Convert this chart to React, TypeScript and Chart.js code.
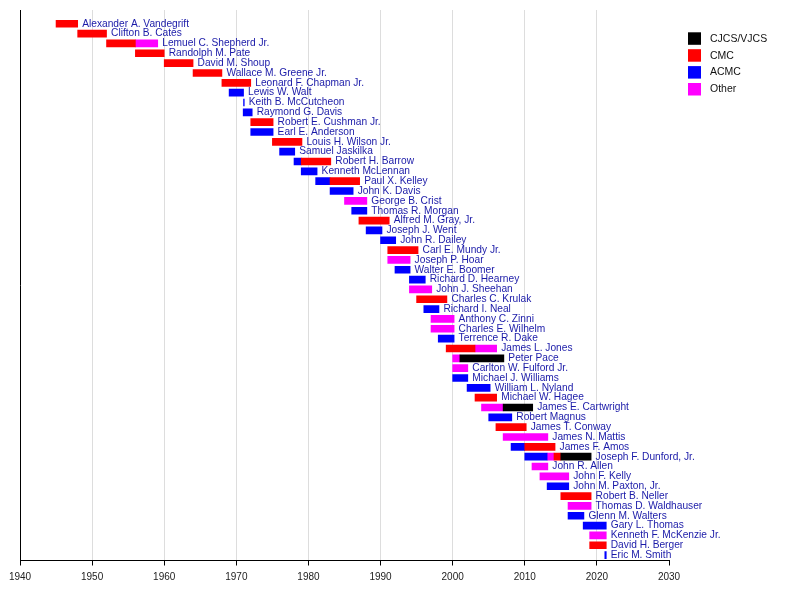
import { Chart, registerables } from "chart.js"
import type { Plugin } from "chart.js"
import { FC, useEffect, useRef } from "react"

Chart.register(...registerables)

type Span = [number, number] | null

// one row per general, top to bottom
const names: string[] = [
    "Alexander A. Vandegrift", "Clifton B. Cates", "Lemuel C. Shepherd Jr.", "Randolph M. Pate",
    "David M. Shoup", "Wallace M. Greene Jr.", "Leonard F. Chapman Jr.", "Lewis W. Walt",
    "Keith B. McCutcheon", "Raymond G. Davis", "Robert E. Cushman Jr.", "Earl E. Anderson",
    "Louis H. Wilson Jr.", "Samuel Jaskilka", "Robert H. Barrow", "Kenneth McLennan",
    "Paul X. Kelley", "John K. Davis", "George B. Crist", "Thomas R. Morgan",
    "Alfred M. Gray, Jr.", "Joseph J. Went", "John R. Dailey", "Carl E. Mundy Jr.",
    "Joseph P. Hoar", "Walter E. Boomer", "Richard D. Hearney", "John J. Sheehan",
    "Charles C. Krulak", "Richard I. Neal", "Anthony C. Zinni", "Charles E. Wilhelm",
    "Terrence R. Dake", "James L. Jones", "Peter Pace", "Carlton W. Fulford Jr.",
    "Michael J. Williams", "William L. Nyland", "Michael W. Hagee", "James E. Cartwright",
    "Robert Magnus", "James T. Conway", "James N. Mattis", "James F. Amos",
    "Joseph F. Dunford, Jr.", "John R. Allen", "John F. Kelly", "John M. Paxton, Jr.",
    "Robert B. Neller", "Thomas D. Waldhauser", "Glenn M. Walters", "Gary L. Thomas",
    "Kenneth F. McKenzie Jr.", "David H. Berger", "Eric M. Smith"
]

const n = null
const cjcsVjcs: Span[] = [
    n, n, n, n, n, n, n, n, n, n, n, n, n, n, n, n, n, n, n, n,
    n, n, n, n, n, n, n, n, n, n, n, n, n, n, [2001, 2007.1], n,
    n, n, n, [2007, 2011.1], n, n, n, n, [2015, 2019.2], n, n, n,
    n, n, n, n, n, n, n
]
const cmc: Span[] = [
    [1945, 1948], [1948, 1952], [1952, 1956], [1956, 1960], [1960, 1964], [1964, 1968], [1968, 1972], n,
    n, n, [1972, 1975.1], n, [1975, 1979.1], n, [1979, 1983.1], n,
    [1983, 1987.1], n, n, n, [1987, 1991.2], n, n, [1991, 1995.2],
    n, n, n, n, [1995, 1999.2], n, n, n,
    n, [1999.1, 2003.1], n, n, n, n, [2003.1, 2006.1], n,
    n, [2006, 2010.2], n, [2010, 2014.2], [2014.05, 2015], n, n, n,
    [2015, 2019.2], n, n, n, n, [2019, 2021.3], n
]
const acmc: Span[] = [
    n, n, n, n, n, n, n, [1969, 1971],
    [1971, 1971.1], [1970.95, 1972.2], n, [1972, 1975.1], n, [1976, 1978.1], [1978, 1979], [1979, 1981.2],
    [1981, 1983], [1983, 1986.2], n, [1986, 1988.1], n, [1988, 1990.2], [1990, 1992.1], n,
    n, [1992, 1994.1], [1994, 1996.2], n, n, [1996, 1998.1], n, n,
    [1998, 2000.2], n, n, n, [2000, 2002.1], [2002, 2005.2], n, n,
    [2005, 2008.2], n, n, [2008.1, 2010], [2010, 2013.1], n, n, [2013.1, 2016.1],
    n, n, [2016, 2018.2], [2018.1, 2021.3], n, n, [2021.1, 2021.3]
]
const other: Span[] = [
    n, n, [1956, 1959.1], n, n, n, n, n,
    n, n, n, n, n, n, n, n,
    n, n, [1985, 1988.1], n, n, n, n, n,
    [1991, 1994.1], n, n, [1994, 1997.1], n, n, [1997, 2000.2], [1997, 2000.2],
    n, [2003.1, 2006.1], [2000, 2001], [2000, 2002.1], n, n, n, [2004, 2007],
    n, n, [2007, 2013.2], n, [2013.1, 2014.05], [2011, 2013.2], [2012.1, 2016.1], n,
    n, [2016, 2019.2], n, n, [2019, 2021.3], n, n
]

const roles = ["CJCS/VJCS", "CMC", "ACMC", "Other"]
const roleColors = ["#000000", "#ff0000", "#0000ff", "#ff00ff"]
const roleSpans = [cjcsVjcs, cmc, acmc, other]

const toPoints = (spans: Span[]) =>
    spans.flatMap((s, i) => (s ? [{ x: s, y: i }] : []))

// name right of the last segment of each row
const nameLabels: Plugin<"bar"> = {
    id: "nameLabels",
    afterDatasetsDraw(chart) {
        const { ctx, scales } = chart
        ctx.save()
        ctx.font = "10.2px 'Liberation Sans', Arial, sans-serif"
        ctx.fillStyle = "#1a1aa8"
        ctx.textBaseline = "middle"
        ctx.textAlign = "left"
        names.forEach((name, i) => {
            const ends = roleSpans.map(r => r[i]).filter(Boolean).map(s => (s as number[])[1])
            if (!ends.length) return
            const x = scales.x.getPixelForValue(Math.max(...ends)) + 4.5
            const y = scales.y.getPixelForValue(i)
            ctx.fillText(name, x, y)
        })
        ctx.restore()
    }
}

const boxLegend: Plugin<"bar"> = {
    id: "boxLegend",
    afterDraw(chart) {
        const { ctx } = chart
        ctx.save()
        ctx.font = "10.5px 'Liberation Sans', Arial, sans-serif"
        ctx.textBaseline = "middle"
        chart.data.datasets.forEach((ds, i) => {
            const top = 32.3 + i * 16.9
            ctx.fillStyle = ds.backgroundColor as string
            ctx.fillRect(688, top, 13, 12.5)
            ctx.fillStyle = "#111111"
            ctx.fillText(ds.label as string, 710, top + 6.5)
        })
        ctx.restore()
    }
}

const TimelineChart: FC = () => {
    const canvasRef = useRef<HTMLCanvasElement>(null)

    useEffect(() => {
        if (!canvasRef.current) return
        const chart = new Chart(canvasRef.current, {
            type: "bar",
            data: {
                datasets: roles.map((label, k) => ({
                    label,
                    data: toPoints(roleSpans[k]) as any,
                    backgroundColor: roleColors[k],
                    borderWidth: 0,
                    grouped: false,
                    barThickness: 7
                }))
            },
            options: {
                indexAxis: "y",
                animation: false,
                responsive: true,
                maintainAspectRatio: false,
                layout: { padding: { left: 20, top: 10, right: 131, bottom: 20.5 } },
                plugins: { legend: { display: false }, tooltip: { enabled: false } },
                scales: {
                    x: {
                        type: "linear",
                        min: 1940,
                        max: 2030,
                        ticks: {
                            stepSize: 10,
                            padding: 6,
                            color: "#222",
                            callback: v => String(v),
                            font: { family: "'Liberation Sans', Arial, sans-serif", size: 10 }
                        },
                        grid: {
                            color: c => (c.tick && c.tick.value === 2030 ? "rgba(0,0,0,0)" : "#dddddd"),
                            tickColor: "#000",
                            tickLength: 5
                        },
                        border: { color: "#000", width: 1 }
                    },
                    y: {
                        type: "linear",
                        reverse: true,
                        offset: false,
                        min: -1.4,
                        max: 54.55,
                        ticks: { display: false },
                        grid: { display: false, drawTicks: false },
                        border: { color: "#000", width: 1 }
                    }
                }
            },
            plugins: [nameLabels, boxLegend]
        })
        return () => chart.destroy()
    }, [])

    return <canvas ref={canvasRef}></canvas>
}

export default function App() {
    return (
        <div style={{ position: "fixed", left: 0, top: 0, width: 800, height: 610, background: "#fff" }}>
            <TimelineChart />
        </div>
    )
}
